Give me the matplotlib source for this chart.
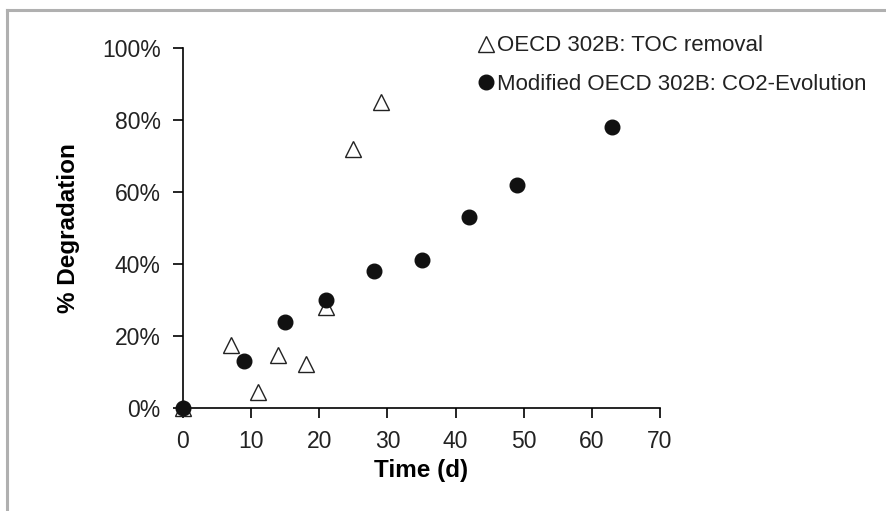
import matplotlib.pyplot as plt
from matplotlib.lines import Line2D

plt.rcParams['font.family'] = ['Liberation Sans', 'DejaVu Sans']

# OECD 302B: TOC removal
toc_days = [0, 7, 11, 14, 18, 21, 25, 29]
toc_pct = [0, 17.5, 4.4, 14.7, 12.2, 28, 72, 85]

# Modified OECD 302B: CO2-Evolution
co2_days = [0, 9, 15, 21, 28, 35, 42, 49, 63]
co2_pct = [0, 13, 24, 30, 38, 41, 53, 62, 78]

x_ticks = [0, 10, 20, 30, 40, 50, 60, 70]
y_ticks = [0, 20, 40, 60, 80, 100]

fig = plt.figure(figsize=(8.87, 5.11), dpi=100)
ax = fig.add_axes([0.2063, 0.2016, 0.5378, 0.7044])

ax.plot(toc_days, toc_pct, linestyle='none', marker='^', markersize=12,
        markerfacecolor='white', markeredgecolor='#222222', markeredgewidth=1,
        label='OECD 302B: TOC removal', clip_on=False, zorder=3)
ax.plot(co2_days, co2_pct, linestyle='none', marker='o', markersize=10.5,
        color='#111111', label='Modified OECD 302B: CO2-Evolution',
        clip_on=False, zorder=4)

ax.set_xlim(0, 70)
ax.set_ylim(0, 100)
ax.set_xticks(x_ticks)
ax.set_yticks(y_ticks)
ax.set_yticklabels([f'{v}%' for v in y_ticks])
ax.tick_params(labelsize=16.5, length=7, width=1.2, direction='out',
               labelcolor='#222222')
ax.tick_params(axis='x', pad=9)
ax.tick_params(axis='y', pad=9)

for side in ['top', 'right']:
    ax.spines[side].set_visible(False)
for side in ['left', 'bottom']:
    ax.spines[side].set_linewidth(1.2)

ax.set_xlabel('Time (d)', fontsize=17.5, fontweight='bold', labelpad=4)
ax.set_ylabel('% Degradation', fontsize=17.5, fontweight='bold', labelpad=16)

fig.legend(loc='upper left', bbox_to_anchor=(0.514, 0.97), frameon=False,
           fontsize=16, handletextpad=0.05, labelspacing=0.8,
           handlelength=0.9, labelcolor='#222222')

# grey frame lines at top and left of the picture
fig.add_artist(Line2D([0.008, 1.0], [0.980, 0.980], color='#b0b0b0', lw=2.2,
                      transform=fig.transFigure))
fig.add_artist(Line2D([0.008, 0.008], [0.0, 0.980], color='#b0b0b0', lw=2.2,
                      transform=fig.transFigure))

fig.savefig('out.png', dpi=100)
